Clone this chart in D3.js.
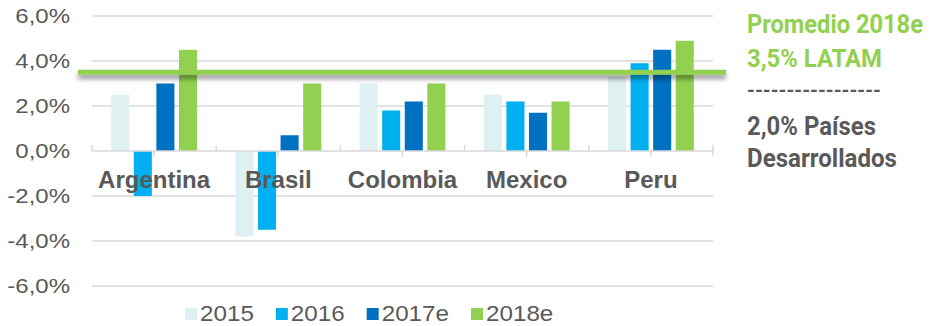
<!DOCTYPE html>
<html>
<head>
<meta charset="utf-8">
<script src="https://cdn.jsdelivr.net/npm/d3@7/dist/d3.min.js"></script>
<style>
  html, body { margin: 0; padding: 0; background: #ffffff; }
  svg { display: block; }
</style>
</head>
<body>
<svg id="chart" width="930" height="326"></svg>
<script>
// GDP growth by country, 2015 to 2018e
const countries = ["Argentina", "Brasil", "Colombia", "Mexico", "Peru"];
const seriesNames = ["2015", "2016", "2017e", "2018e"];
const growth2015 = [2.5, -3.8, 3.0, 2.5, 3.3];
const growth2016 = [-2.0, -3.5, 1.8, 2.2, 3.9];
const growth2017e = [3.0, 0.7, 2.2, 1.7, 4.5];
const growth2018e = [4.5, 3.0, 3.0, 2.2, 4.9];
const seriesColors = ["#dff0f2", "#00b0f0", "#0070c0", "#92d050"];
const yTicks = [-6, -4, -2, 0, 2, 4, 6];
const latamAverage = 3.5;
const noteLines = ["Promedio 2018e", "3,5% LATAM", "-----------------", "2,0% Países", "Desarrollados"];

const seriesValues = [growth2015, growth2016, growth2017e, growth2018e];

const svg = d3.select("#chart");
const gray = "#595959";
const grid = "#d9d9d9";
const plotLeft = 92, plotRight = 713, plotTop = 16, plotBottom = 286;

const locale = d3.formatLocale({ decimal: ",", thousands: ".", grouping: [3], currency: ["", ""], minus: "-" });
const pct = v => locale.format(".1f")(v) + "%";

const x0 = d3.scaleBand().domain(countries).range([plotLeft, plotRight]).paddingInner(0).paddingOuter(0);
const x1 = d3.scaleBand().domain(seriesNames).range([0, x0.bandwidth()]).paddingInner(0.2).paddingOuter(0.85);
const y = d3.scaleLinear().domain([-6, 6]).range([plotBottom, plotTop]);

const defs = svg.append("defs");
const shadow = defs.append("filter").attr("id", "lineShadow")
  .attr("x", "-5%").attr("y", "-200%").attr("width", "110%").attr("height", "600%");
shadow.append("feDropShadow").attr("dx", 0).attr("dy", 4).attr("stdDeviation", 2.5)
  .attr("flood-color", "#000").attr("flood-opacity", 0.45);

// horizontal gridlines
svg.append("g").selectAll("line").data(yTicks.filter(t => t !== 0)).join("line")
  .attr("x1", plotLeft).attr("x2", plotRight)
  .attr("y1", d => y(d)).attr("y2", d => y(d))
  .attr("stroke", grid).attr("stroke-width", 1.5);

// y-axis labels (slightly wide face)
const yLab = svg.append("g").selectAll("text").data(yTicks).join("text")
  .attr("x", 70).attr("y", d => y(d) + 7)
  .attr("text-anchor", "end")
  .attr("font-family", "Liberation Sans, Arial, sans-serif")
  .attr("font-size", 20).attr("fill", gray)
  .text(d => pct(d));
yLab.each(function () {
  const w = this.getComputedTextLength();
  d3.select(this).attr("textLength", w * 1.2).attr("lengthAdjust", "spacingAndGlyphs")
    .attr("x", 70 - w * 1.2).attr("text-anchor", "start");
});

// bars
const groups = svg.append("g").selectAll("g").data(countries).join("g")
  .attr("transform", d => `translate(${x0(d)},0)`);
groups.selectAll("rect")
  .data((c, i) => seriesNames.map((s, j) => ({ s, j, v: seriesValues[j][i] })))
  .join("rect")
  .attr("x", d => x1(d.s))
  .attr("width", x1.bandwidth())
  .attr("y", d => y(Math.max(0, d.v)))
  .attr("height", d => Math.abs(y(d.v) - y(0)))
  .attr("fill", d => seriesColors[d.j]);

// zero axis with category tick marks
const axisG = svg.append("g");
axisG.append("line").attr("x1", plotLeft).attr("x2", plotRight)
  .attr("y1", y(0)).attr("y2", y(0)).attr("stroke", grid).attr("stroke-width", 1.5);
const bounds = countries.map(c => x0(c)).concat([plotRight]);
axisG.selectAll("line.b").data(bounds).join("line").attr("class", "b")
  .attr("x1", d => d).attr("x2", d => d)
  .attr("y1", y(0) - 6).attr("y2", (d, i) => i === bounds.length - 1 ? y(0) + 5 : y(0))
  .attr("stroke", grid).attr("stroke-width", 1.5);
axisG.selectAll("line.m").data(countries).join("line").attr("class", "m")
  .attr("x1", d => x0(d) + x0.bandwidth() / 2).attr("x2", d => x0(d) + x0.bandwidth() / 2)
  .attr("y1", y(0)).attr("y2", y(0) + 6)
  .attr("stroke", grid).attr("stroke-width", 1.5);

// category labels
svg.append("g").selectAll("text").data(countries).join("text")
  .attr("x", d => x0(d) + x0.bandwidth() / 2).attr("y", 188)
  .attr("text-anchor", "middle")
  .attr("font-family", "Liberation Sans, Arial, sans-serif")
  .attr("font-size", 24).attr("font-weight", "bold").attr("fill", gray)
  .text(d => d);

// LATAM average line (a thin band so the shadow filter has an area to work on)
const lineW = 5;
svg.append("rect")
  .attr("x", 78).attr("width", 726 - 78)
  .attr("y", y(latamAverage) - lineW / 2).attr("height", lineW)
  .attr("fill", "#92d050")
  .attr("filter", "url(#lineShadow)");

// legend
const legend = svg.append("g");
let lx = 185;
seriesNames.forEach((s, j) => {
  legend.append("rect").attr("x", lx).attr("y", 308).attr("width", 12).attr("height", 12)
    .attr("fill", seriesColors[j]);
  const t = legend.append("text").attr("x", lx + 15).attr("y", 321)
    .attr("font-family", "Liberation Sans, Arial, sans-serif")
    .attr("font-size", 22).attr("fill", gray).text(s);
  const w = t.node().getComputedTextLength() * 1.1;
  t.attr("textLength", w).attr("lengthAdjust", "spacingAndGlyphs");
  lx += 15 + w + 22;
});

// side note: condensed look obtained by squeezing each line horizontally
const noteX = 747;
const noteY = [33, 66.5, 97, 135, 167];
const noteW = [176, 135, 134, 129, 150];
const noteC = ["#92d050", "#92d050", gray, gray, gray];
const noteG = svg.append("g");
noteLines.forEach((line, i) => {
  const t = noteG.append("text")
    .attr("x", 0).attr("y", 0)
    .attr("font-family", "Roboto, sans-serif").attr("font-weight", "bold")
    .attr("font-size", i === 2 ? 20 : 25.5)
    .attr("fill", noteC[i])
    .text(line);
  const natural = t.node().getComputedTextLength();
  t.attr("transform", `translate(${noteX},${noteY[i]}) scale(${noteW[i] / natural},1)`);
});
</script>
</body>
</html>
